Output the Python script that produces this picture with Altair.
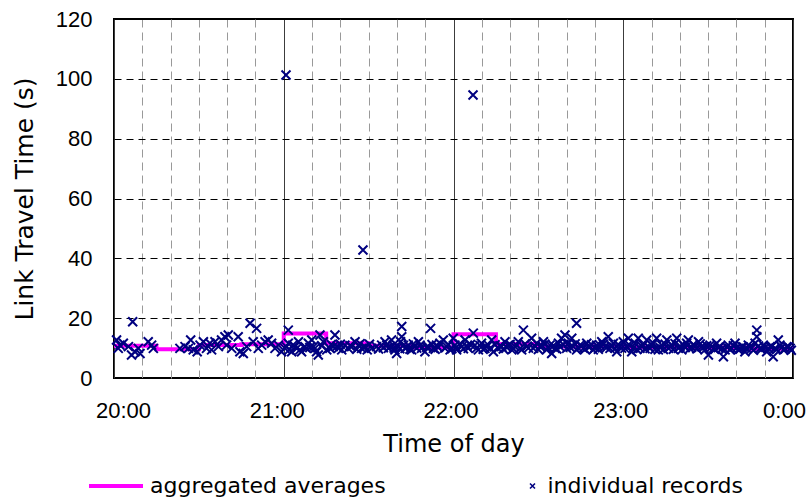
import altair as alt
import pandas as pd

# ---- data (minutes after 20:00, link travel time in s) ----
agg_start = [0, 15, 30, 45, 60, 75, 90, 105, 120, 135, 150, 165, 180, 195, 210, 225]
agg_value = [10.8, 9.6, 11.0, 11.3, 14.9, 11.6, 10.8, 10.2, 14.6, 11.4, 10.5, 10.6, 10.3, 10.4, 10.2, 9.8]

records_20h = [(0.9, 12.7), (2.1, 11.0), (1.5, 9.9), (3.3, 11.6), (6.6, 18.8), (5.1, 10.5),
               (6.2, 7.7), (7.4, 8.8), (8.6, 9.9), (9.2, 8.2), (12.1, 12.1), (13.3, 11.0),
               (13.9, 9.9), (23.3, 9.9), (25.1, 10.5), (26.3, 9.9), (27.1, 12.7), (28.0, 9.4),
               (29.4, 8.8), (30.4, 11.0), (31.6, 12.1), (32.7, 9.9), (33.9, 11.6), (34.5, 9.4),
               (35.7, 12.1), (36.9, 10.5), (38.0, 12.7), (39.2, 13.8), (40.4, 14.4), (39.8, 11.0),
               (41.6, 9.9), (43.9, 13.8), (44.5, 8.8), (45.7, 8.2), (46.9, 10.5), (48.1, 18.3),
               (50.4, 16.6), (49.2, 12.1), (51.0, 9.9), (52.2, 11.0), (53.4, 12.1), (54.5, 12.7),
               (55.7, 11.6), (56.9, 9.9), (58.1, 11.0), (59.2, 8.8)]

records_21h = [(60.8, 101.3), (88.0, 42.8), (61.6, 16.0), (60.4, 9.9), (61.6, 11.6), (62.8, 8.8),
               (64.0, 10.5), (65.2, 12.1), (65.7, 9.4), (67.5, 10.5), (68.7, 11.6), (69.9, 12.7),
               (70.5, 10.5), (71.6, 8.8), (72.2, 7.7), (72.8, 14.4), (74.0, 12.1), (75.2, 9.4),
               (76.3, 9.9), (78.1, 14.4), (77.5, 10.5), (79.3, 9.9), (80.5, 9.4), (81.6, 11.0),
               (82.8, 9.9), (84.0, 10.5), (85.2, 12.1), (86.4, 11.0), (87.5, 9.9), (88.7, 10.5),
               (89.5, 9.4), (91.1, 9.9), (92.8, 10.5), (94.6, 11.0), (95.8, 12.1), (97.0, 9.9),
               (98.1, 12.7), (98.7, 11.0), (99.3, 9.4), (99.9, 8.2), (100.5, 10.5), (101.7, 17.2),
               (101.7, 13.8), (101.3, 12.1), (102.9, 9.9), (104.0, 11.0), (105.2, 9.4), (106.4, 10.5),
               (107.6, 12.1), (108.7, 9.9), (109.9, 8.8), (111.9, 16.6), (111.1, 10.5), (112.9, 9.9),
               (114.0, 11.0), (115.2, 11.6), (116.4, 12.7), (117.6, 10.5), (118.8, 9.4), (119.9, 13.3),
               (60.9, 10.5), (61.9, 9.4), (63.2, 11.0), (64.6, 9.9), (66.3, 8.8), (68.0, 9.9),
               (69.2, 10.2), (71.0, 9.9), (73.4, 10.8), (76.8, 11.2), (78.8, 10.6), (80.0, 11.3),
               (83.4, 10.8), (85.8, 9.6), (87.0, 11.5), (88.3, 10.1), (90.3, 11.3), (93.5, 9.7),
               (95.2, 10.1), (96.4, 11.0), (97.6, 10.4), (99.0, 10.0), (101.0, 9.8), (102.3, 10.9),
               (103.4, 10.2), (104.6, 9.6), (105.8, 11.4), (107.0, 10.0), (108.2, 11.0), (110.5, 10.3),
               (112.4, 11.2), (113.5, 9.6), (114.6, 10.2), (116.9, 10.0), (118.2, 11.1), (119.4, 9.8)]

records_22h = [(126.9, 94.6), (120.5, 11.0), (121.1, 9.4), (122.9, 10.5), (124.1, 12.7), (125.2, 9.9),
               (127.0, 15.0), (127.6, 11.0), (128.8, 9.4), (129.9, 11.6), (131.1, 9.9), (132.3, 11.0),
               (133.5, 12.7), (134.1, 8.8), (135.8, 9.9), (137.0, 10.5), (138.2, 12.1), (139.4, 11.0),
               (140.6, 9.4), (141.7, 10.5), (142.9, 12.1), (144.7, 16.0), (144.1, 9.4), (145.9, 10.5),
               (147.6, 13.3), (148.2, 9.9), (149.4, 11.6), (150.6, 10.5), (151.8, 12.1), (152.9, 9.4),
               (154.1, 11.0), (154.7, 8.2), (155.9, 9.9), (157.1, 11.6), (158.2, 13.3), (159.4, 14.4),
               (160.0, 9.9), (160.6, 11.6), (161.8, 13.3), (162.3, 10.5), (163.5, 18.3), (163.5, 9.4),
               (164.7, 11.0), (165.9, 9.9), (167.1, 11.6), (168.2, 10.5), (169.4, 9.4), (170.6, 11.0),
               (172.4, 12.1), (173.5, 10.5), (174.7, 13.8), (175.3, 9.9), (176.5, 11.6), (177.7, 8.8),
               (178.8, 10.5),
               (120.9, 10.2), (122.2, 11.4), (123.5, 9.8), (124.7, 10.6), (126.0, 11.2), (128.2, 10.0),
               (129.3, 10.9), (130.5, 9.6), (131.7, 10.4), (132.9, 9.9), (134.7, 11.1), (136.4, 10.8),
               (137.6, 9.7), (138.8, 10.3), (140.0, 11.2), (141.2, 9.8), (142.3, 10.9), (143.5, 9.9),
               (145.3, 11.4), (146.5, 10.0), (148.8, 10.6), (150.0, 9.5), (151.2, 10.7), (152.3, 11.3),
               (153.5, 10.1), (155.3, 10.8), (156.5, 9.7), (157.7, 10.4), (158.8, 11.2), (161.2, 10.3),
               (163.0, 11.4), (164.1, 10.0), (165.3, 10.7), (166.5, 9.6), (167.7, 10.4), (168.8, 11.1),
               (170.0, 10.1), (171.2, 9.6), (171.8, 10.9), (173.0, 11.3), (174.1, 10.2), (175.9, 10.7),
               (177.1, 9.9), (178.2, 11.2), (179.4, 10.0)]

records_23h = [(180.0, 12.1), (181.2, 10.5), (181.8, 13.3), (183.0, 8.8), (184.2, 11.6), (185.3, 13.3),
               (185.9, 9.9), (187.1, 11.0), (188.3, 12.7), (189.5, 9.9), (190.6, 11.6), (191.8, 13.3),
               (192.4, 9.4), (193.6, 11.0), (195.4, 12.7), (196.0, 9.9), (197.1, 11.0), (198.9, 13.3),
               (199.5, 9.9), (201.3, 11.0), (203.0, 12.7), (203.6, 9.9), (205.4, 10.5), (206.6, 12.1),
               (207.7, 10.5), (208.9, 9.4), (210.1, 7.7), (210.7, 11.0), (211.9, 9.9), (213.0, 11.6),
               (214.2, 10.5), (215.4, 7.1), (216.0, 9.4), (217.1, 11.0), (218.3, 9.9), (219.5, 11.6),
               (220.7, 9.4), (221.9, 10.5), (223.0, 8.8), (224.2, 11.0), (225.4, 9.9), (227.2, 16.0),
               (227.2, 13.8), (226.6, 11.6), (228.3, 9.9), (229.5, 11.0), (230.7, 8.8), (231.9, 10.5),
               (233.0, 7.1), (233.6, 9.9), (234.8, 12.7), (235.4, 11.0), (236.6, 9.4), (237.8, 10.5),
               (239.0, 9.9),
               (180.6, 9.9), (182.4, 10.8), (183.6, 10.1), (184.8, 9.5), (186.5, 10.6), (187.7, 9.8),
               (188.9, 10.4), (190.1, 11.0), (191.2, 9.6), (193.0, 10.2), (194.2, 9.5), (194.8, 11.3),
               (196.6, 10.4), (197.7, 9.6), (198.3, 11.5), (200.1, 10.6), (200.7, 9.4), (201.9, 10.2),
               (202.4, 11.6), (204.2, 10.3), (204.8, 11.2), (206.0, 9.8), (207.2, 11.4), (208.3, 10.2),
               (209.5, 10.8), (211.3, 10.5), (212.4, 9.6), (213.6, 10.2), (214.8, 9.8), (216.6, 10.4),
               (217.7, 9.5), (218.9, 10.8), (220.1, 10.1), (221.3, 9.7), (222.4, 10.4), (223.6, 9.9),
               (224.8, 10.5), (226.0, 9.3), (227.8, 10.7), (228.9, 9.6), (230.1, 10.3), (231.3, 9.9),
               (232.4, 10.6), (234.2, 9.5), (236.0, 10.2), (237.2, 9.7), (238.4, 10.4), (239.4, 9.3)]

y_ticks = [0, 20, 40, 60, 80, 100, 120]

# ---- tables ----
line_df = pd.DataFrame({
    "t": agg_start + [240],
    "v": agg_value + [agg_value[-1]],
    "series": "aggregated averages",
})
all_records = records_20h + records_21h + records_22h + records_23h
pts_df = pd.DataFrame(all_records, columns=["t", "v"])
pts_df["kind"] = "individual records"

CROSS = "M-1,-1L1,1M1,-1L-1,1"
label_font = "Liberation Sans"
title_font = "DejaVu Sans"

x_axis = alt.Axis(
    values=list(range(0, 241, 10)),
    labelExpr="datum.value % 60 === 0 ? (datum.value === 240 ? '0:00' : (20 + datum.value / 60) + ':00') : ''",
    grid=True,
    gridColor={"condition": {"test": "datum.value % 60 === 0", "value": "#3c3c3c"}, "value": "#999999"},
    gridDash={"condition": {"test": "datum.value % 60 === 0", "value": []}, "value": [8, 5]},
    gridWidth=1,
    ticks=False, tickSize=0, domain=False,
    labelFont=label_font, labelFontSize=22, labelColor="black",
    labelPadding=22, labelFlush=False, labelOverlap=False, labelBound=False,
    labelOffset={"condition": [{"test": "datum.value === 0", "value": 9},
                               {"test": "datum.value === 240", "value": -9},
                               {"test": "datum.value === 60", "value": -7}],
                 "value": -3},
    title="Time of day", titleFont=title_font, titleFontSize=24, titleFontWeight="normal",
    titleColor="black", titleX=339.5, titleY=66, titleAlign="center", titleBaseline="middle",
)
y_axis = alt.Axis(
    values=y_ticks,
    grid=True, gridColor="black", gridDash=[7, 5], gridWidth=1,
    ticks=False, tickSize=0, domain=False,
    labelFont=label_font, labelFontSize=22, labelColor="black", labelPadding=22,
    title="Link Travel Time (s)", titleFont=title_font, titleFontSize=25, titleFontWeight="normal",
    titleColor="black", titleX=-90, titleY=179.5, titleAngle=270,
    titleAlign="center", titleBaseline="middle",
)

x_enc = alt.X("t:Q", scale=alt.Scale(domain=[0, 240], nice=False, zero=False), axis=x_axis)
y_enc = alt.Y("v:Q", scale=alt.Scale(domain=[0, 120], nice=False), axis=y_axis)

line = alt.Chart(line_df).mark_line(interpolate="step-after", strokeWidth=4).encode(
    x=x_enc, y=y_enc,
    color=alt.Color("series:N",
                    scale=alt.Scale(domain=["aggregated averages"], range=["#ff00ff"]),
                    legend=alt.Legend(orient="none", legendX=-27, legendY=438, title=None,
                                      symbolType="stroke", symbolSize=2916, symbolStrokeWidth=4,
                                      labelFont=title_font, labelFontSize=22, labelColor="black",
                                      labelOffset=5, labelLimit=0)),
)

points = alt.Chart(pts_df).mark_point(
    shape=CROSS, filled=False, color="#000080", strokeWidth=2, size=81, opacity=1
).encode(
    x=x_enc, y=y_enc,
    shape=alt.Shape("kind:N",
                    scale=alt.Scale(domain=["individual records"], range=[CROSS]),
                    legend=alt.Legend(orient="none", legendX=407.5, legendY=456, title=None,
                                      symbolSize=25, symbolStrokeWidth=1.6,
                                      symbolStrokeColor="#000080", symbolFillColor="transparent",
                                      labelFont=title_font, labelFontSize=22, labelColor="black",
                                      labelOffset=4, labelLimit=0)),
)

chart = alt.layer(line, points).resolve_legend(color="independent", shape="independent").properties(
    width=679, height=359,
    autosize=alt.AutoSizeParams(type="none"),
    padding={"left": 114, "top": 19, "right": 19, "bottom": 124},
    background="white",
).configure_view(stroke="black", strokeWidth=2)

chart.save("out.html", embed_options={"renderer": "svg", "actions": False})
